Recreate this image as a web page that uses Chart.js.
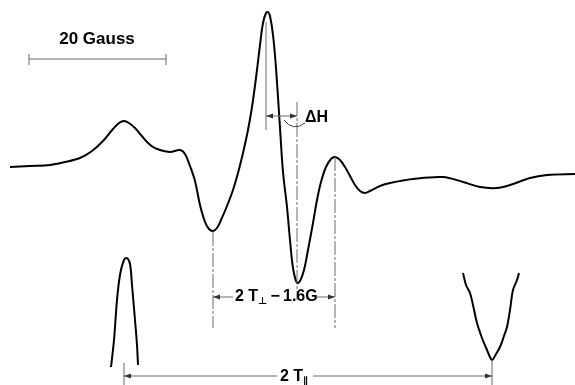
<!DOCTYPE html>
<html>
<head>
<meta charset="utf-8">
<script src="https://cdn.jsdelivr.net/npm/chart.js@4.4.1/dist/chart.umd.min.js"></script>
<style>
  html, body { margin: 0; padding: 0; background: #fff; }
  #wrap { width: 575px; height: 385px; position: relative; }
</style>
</head>
<body>
<div id="wrap"><canvas id="epr"></canvas></div>
<script>
// field position (x) and signal (y), in picture units
var mainField = [10, 30, 50, 65, 80, 92, 103, 113, 119, 124, 129, 135, 141, 147, 153, 160, 170, 180, 185, 190, 195, 200, 205, 209, 213, 217, 221, 227, 233, 238, 243, 248, 252, 256, 260, 263, 266, 268, 270, 273, 276, 280, 283, 287, 290, 293, 297, 300, 304, 308, 313, 317, 321, 326, 331, 335, 340, 345, 350, 355, 360, 365, 370, 380, 390, 413, 443, 463, 480, 497, 510, 530, 547, 575];
var mainSignal = [167, 166, 165, 162, 158, 151, 141, 129, 123, 121, 123, 128, 135, 142, 147, 150, 152, 150, 154, 166, 181, 205, 222, 229, 231, 228, 220, 206, 190, 173, 153, 130, 107, 78, 45, 23, 13, 12, 16, 35, 68, 128, 172, 207, 240, 268, 283, 281, 270, 250, 223, 200, 182, 167, 159, 157, 160, 167, 176, 185, 191, 193, 191, 186, 183, 179, 177, 182, 187, 188, 185, 178, 175, 174];

// parallel-edge fragments (low field peak, high field trough)
var lowField = [111, 114, 117, 120, 124, 127, 130, 132, 135, 137, 138];
var lowSignal = [367, 340, 300, 275, 260, 258, 264, 285, 320, 345, 365];
var highField = [463, 466, 470, 473, 477, 482, 487, 492, 496, 500, 504, 507, 510, 513, 517, 519];
var highSignal = [273, 285, 293, 305, 323, 338, 350, 360, 354, 347, 336, 327, 310, 290, 280, 273];

// marker positions
var scaleBar = [29, 166];        // 20 Gauss
var dHLines = [266, 297];        // ΔH
var perpLines = [213, 335];      // 2 T⊥ - 1.6G
var parLines = [124, 492];       // 2 T∥

function pts(xs, ys) {
  return xs.map(function (x, i) { return { x: x, y: ys[i] }; });
}

var marks = {
  id: 'marks',
  afterDatasetsDraw: function (chart) {
    var c = chart.ctx;
    var sx = chart.scales.x, sy = chart.scales.y;
    function X(v) { return sx.getPixelForValue(v); }
    function Y(v) { return sy.getPixelForValue(v); }
    function line(x1, y1, x2, y2, dash) {
      c.save();
      c.strokeStyle = '#6a6a6a';
      c.lineWidth = 1;
      c.setLineDash(dash || []);
      c.beginPath();
      c.moveTo(X(x1), Y(y1));
      c.lineTo(X(x2), Y(y2));
      c.stroke();
      c.restore();
    }
    function head(x, y, dir) {
      c.save();
      c.fillStyle = '#333';
      c.beginPath();
      c.moveTo(X(x), Y(y));
      c.lineTo(X(x) - dir * 7, Y(y) - 2.5);
      c.lineTo(X(x) - dir * 7, Y(y) + 2.5);
      c.closePath();
      c.fill();
      c.restore();
    }
    var dash = [14, 2, 3, 2];
    var bold = 'bold 16px "Liberation Sans", Arial, sans-serif';

    // 20 Gauss bar
    line(scaleBar[0], 59, scaleBar[1], 59);
    line(scaleBar[0], 54, scaleBar[0], 65);
    line(scaleBar[1], 54, scaleBar[1], 65);

    // ΔH
    line(dHLines[0], 22, dHLines[0], 130);
    line(dHLines[1], 102, dHLines[1], 300, dash);
    line(dHLines[0], 116, dHLines[1], 116);
    head(dHLines[0], 116, -1);
    head(dHLines[1], 116, 1);
    c.save();
    c.strokeStyle = '#444';
    c.lineWidth = 1;
    c.beginPath();
    c.moveTo(X(284), Y(120));
    c.quadraticCurveTo(X(293), Y(132), X(305), Y(123));
    c.stroke();
    c.restore();

    // 2 T⊥ - 1.6G
    line(perpLines[0], 232, perpLines[0], 328, dash);
    line(perpLines[1], 157, perpLines[1], 328, dash);
    line(perpLines[0], 297, 233, 297);
    line(316, 297, perpLines[1], 297);
    head(perpLines[0], 297, -1);
    head(perpLines[1], 297, 1);

    // 2 T∥
    line(parLines[0], 363, parLines[0], 385);
    line(parLines[1], 360, parLines[1], 385);
    line(parLines[0], 376, 277, 376);
    line(313, 376, parLines[1], 376);
    head(parLines[0], 376, -1);
    head(parLines[1], 376, 1);

    // labels
    c.save();
    c.fillStyle = '#000';
    c.textBaseline = 'middle';
    c.font = 'bold 17px "Liberation Sans", Arial, sans-serif';
    c.textAlign = 'center';
    c.fillText('20 Gauss', X(97), Y(39));
    c.font = bold;
    c.textAlign = 'left';
    c.fillText('\u0394H', X(305), Y(118));

    var x0 = X(235), y0 = Y(297);
    c.fillText('2 T', x0, y0);
    var w = c.measureText('2 T').width;
    c.font = 'bold 10px "DejaVu Sans", sans-serif';
    c.fillText('\u22A5', x0 + w, y0 + 4);
    var w2 = c.measureText('\u22A5').width;
    c.font = bold;
    c.fillText('\u2009\u2212\u20091.6G', x0 + w + w2, y0);

    x0 = X(280); y0 = Y(377);
    c.fillText('2 T', x0, y0);
    w = c.measureText('2 T').width;
    c.font = 'bold 10px "DejaVu Sans", sans-serif';
    c.fillText('\u2225', x0 + w, y0 + 4);
    c.restore();
  }
};

var trace = { borderColor: '#000', borderWidth: 2, pointRadius: 0, showLine: true, tension: 0.35, clip: false };

new Chart(document.getElementById('epr'), {
  type: 'scatter',
  data: {
    datasets: [
      Object.assign({ label: 'EPR', data: pts(mainField, mainSignal) }, trace),
      Object.assign({ label: 'low', data: pts(lowField, lowSignal) }, trace),
      Object.assign({ label: 'high', data: pts(highField, highSignal) }, trace)
    ]
  },
  options: {
    responsive: true,
    maintainAspectRatio: false,
    animation: false,
    layout: { padding: 0 },
    plugins: { legend: { display: false }, tooltip: { enabled: false } },
    scales: {
      x: { type: 'linear', display: false, min: 0, max: 575 },
      y: { type: 'linear', display: false, min: 0, max: 385, reverse: true }
    }
  },
  plugins: [marks]
});
</script>
</body>
</html>
